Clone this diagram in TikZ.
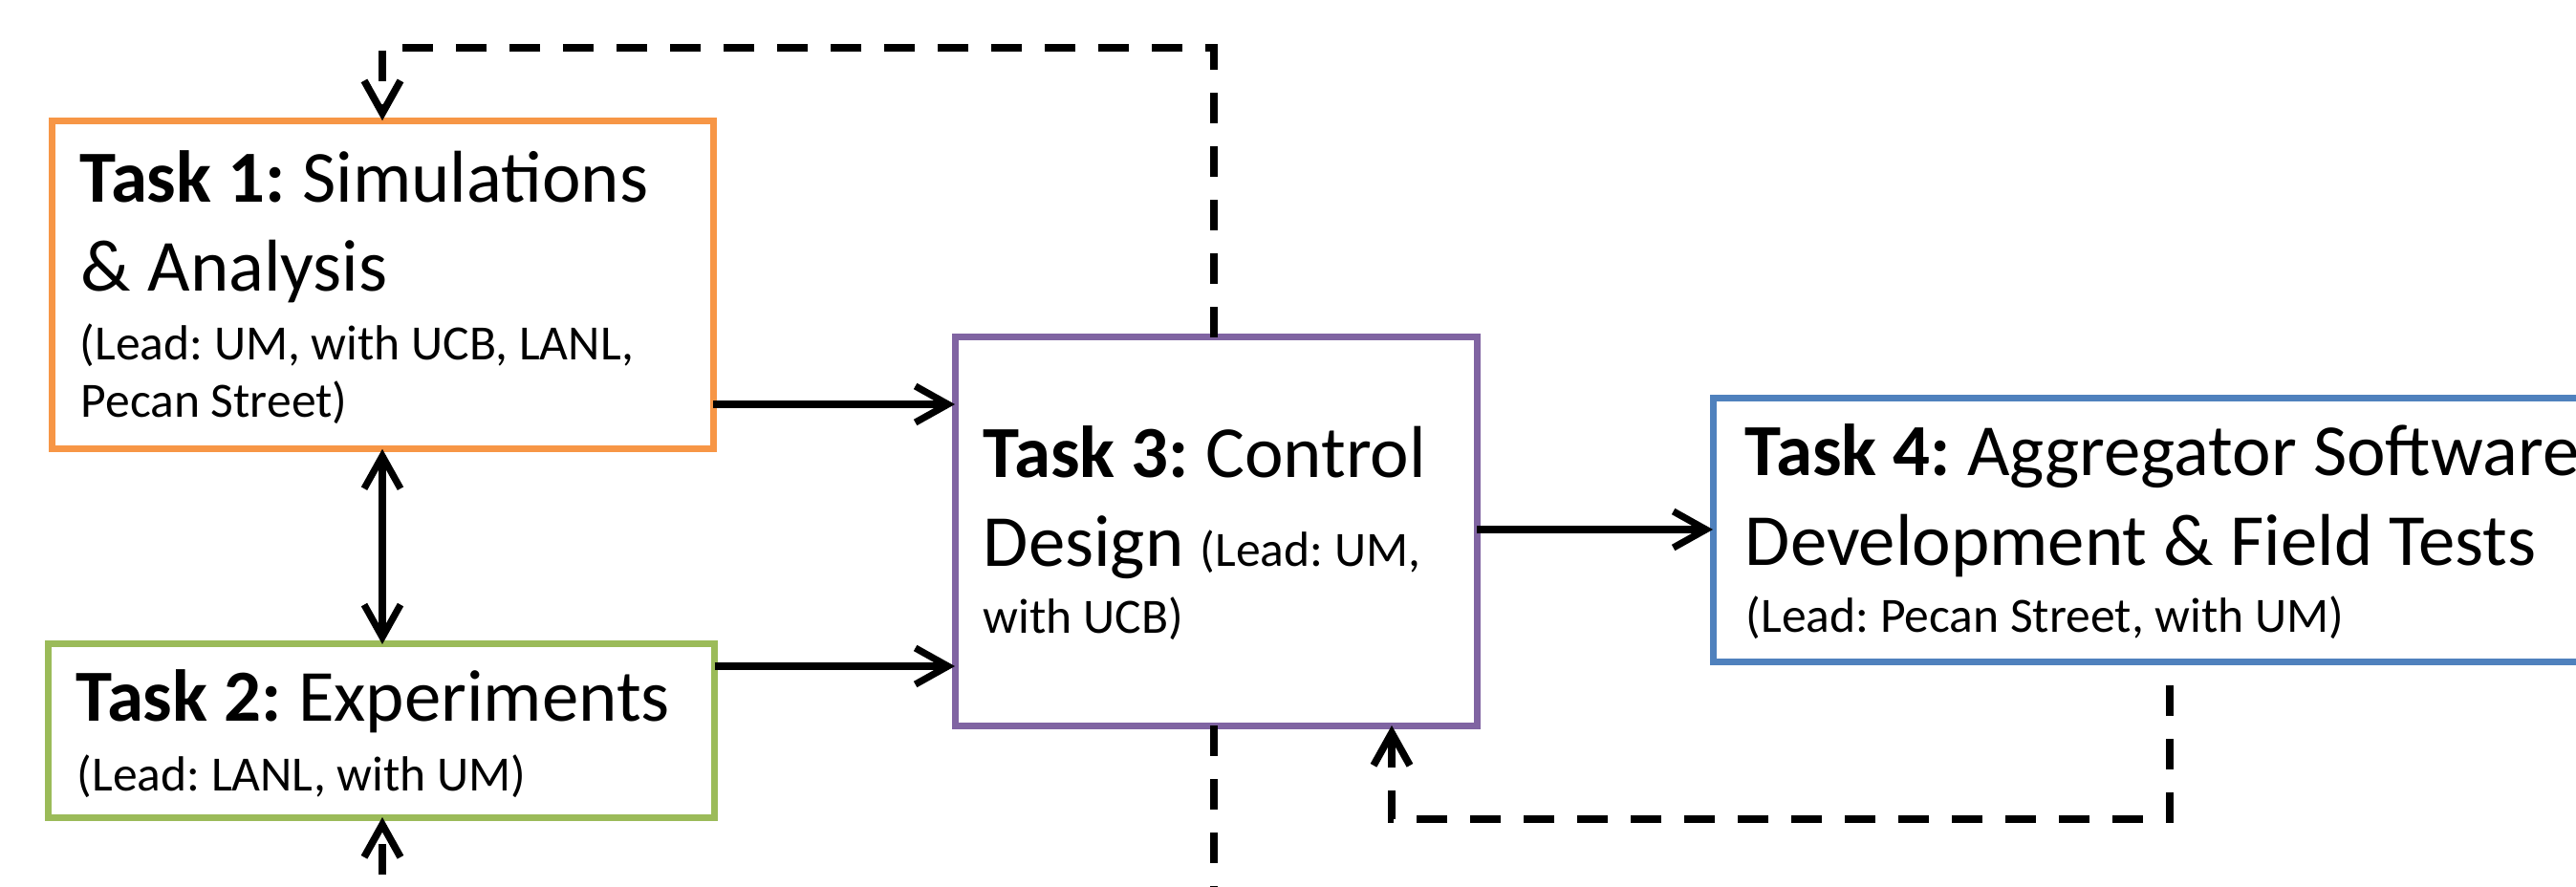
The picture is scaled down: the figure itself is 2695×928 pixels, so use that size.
\documentclass[tikz,border=0pt]{standalone}
\usepackage{fontspec}
\setmainfont{Carlito}
\usetikzlibrary{arrows.meta}
\definecolor{corange}{HTML}{F79646}
\definecolor{cgreen}{HTML}{9BBB59}
\definecolor{cpurple}{HTML}{8064A2}
\definecolor{cblue}{HTML}{4F81BD}
\tikzset{
  box/.style={draw, line width=1.75pt, rectangle, inner sep=0pt, outer sep=0pt, fill=white},
  big/.style={anchor=base west, inner sep=0pt, font=\frenchspacing\fontsize{19.2}{23}\selectfont},
  small/.style={anchor=base west, inner sep=0pt, font=\frenchspacing\fontsize{12.9}{15}\selectfont},
  tip/.style={-{Straight Barb[length=8.5pt,width=9.5pt]}},
  dtip/.style={{Straight Barb[length=8.5pt,width=9.5pt]}-{Straight Barb[length=8.5pt,width=9.5pt]}},
  arr/.style={line width=1.8pt, tip},
  dsh/.style={line width=1.9pt, dash pattern=on 8pt off 6pt},
}
\newcommand{\smallfnt}{\fontsize{12.9}{15}\selectfont}
\begin{document}
\begin{tikzpicture}[x=0.25pt,y=-0.25pt]
\useasboundingbox (0,0) rectangle (2695,928);
\clip (0,0) rectangle (2695,928);

% boxes
\node[box, draw=corange, minimum width=173pt, minimum height=85.9pt] (task1) at (400,298) {};
\node[box, draw=cgreen, minimum width=174.25pt, minimum height=45.25pt] (task2) at (399,764.5) {};
\node[box, draw=cpurple, minimum width=136.5pt, minimum height=101.5pt] (task3) at (1272,556) {};
\node[box, draw=cblue, minimum width=232pt, minimum height=69pt] (task4) at (2256,555) {};

% texts
\node[big] (t1a) at (83,212) {\textbf{Task 1:} Simulations};
\node[big] (t1b) at (84,305) {\& Analysis};
\node[small] (t1c) at (83,377) {(Lead: UM, with UCB, LANL,};
\node[small] (t1d) at (84,437) {Pecan Street)};

\node[big] (t2a) at (79,755) {\textbf{Task 2:} Experiments};
\node[small] (t2b) at (80,827) {(Lead: LANL, with UM)};

\node[big] (t3a) at (1028,500) {\textbf{Task 3:} Control};
\node[big] (t3b) at (1028,593) {Design {\smallfnt (Lead: UM,}};
\node[small] (t3c) at (1028,663) {with UCB)};

\node[big] (t4a) at (1825,498) {\textbf{Task 4:} Aggregator Software};
\node[big] (t4b) at (1825,592) {Development \& Field Tests};
\node[small] (t4c) at (1826,661) {(Lead: Pecan Street, with UM)};

% solid arrows
\draw[arr] (task1.east |- 0,423) -- (task3.west |- 0,423);
\draw[arr] (task2.east |- 0,697) -- (task3.west |- 0,697);
\draw[arr] (task3.east |- 0,554) -- (task4.west |- 0,554);
\draw[line width=1.8pt, dtip] (task1.south) -- (task1.south |- task2.north);

% dashed feedback loops
\coordinate (topr) at (1270,50);
\coordinate (topl) at (400,50);
\draw[dsh, tip] (task3.north -| topr) -- (topr) -- (topl) -- (task1.north);

\coordinate (c4a) at (2270,857);
\coordinate (c4b) at (1456,857);
\draw[dsh, tip, dash phase=8pt] (task4.south -| c4a) -- (c4a) -- (c4b) -- (task3.south -| c4b);

\coordinate (botr) at (1270,990);
\coordinate (botl) at (400,990);
\draw[dsh, tip] (task3.south -| botr) -- (botr) -- (botl) -- (task2.south -| botl);
\end{tikzpicture}
\end{document}
